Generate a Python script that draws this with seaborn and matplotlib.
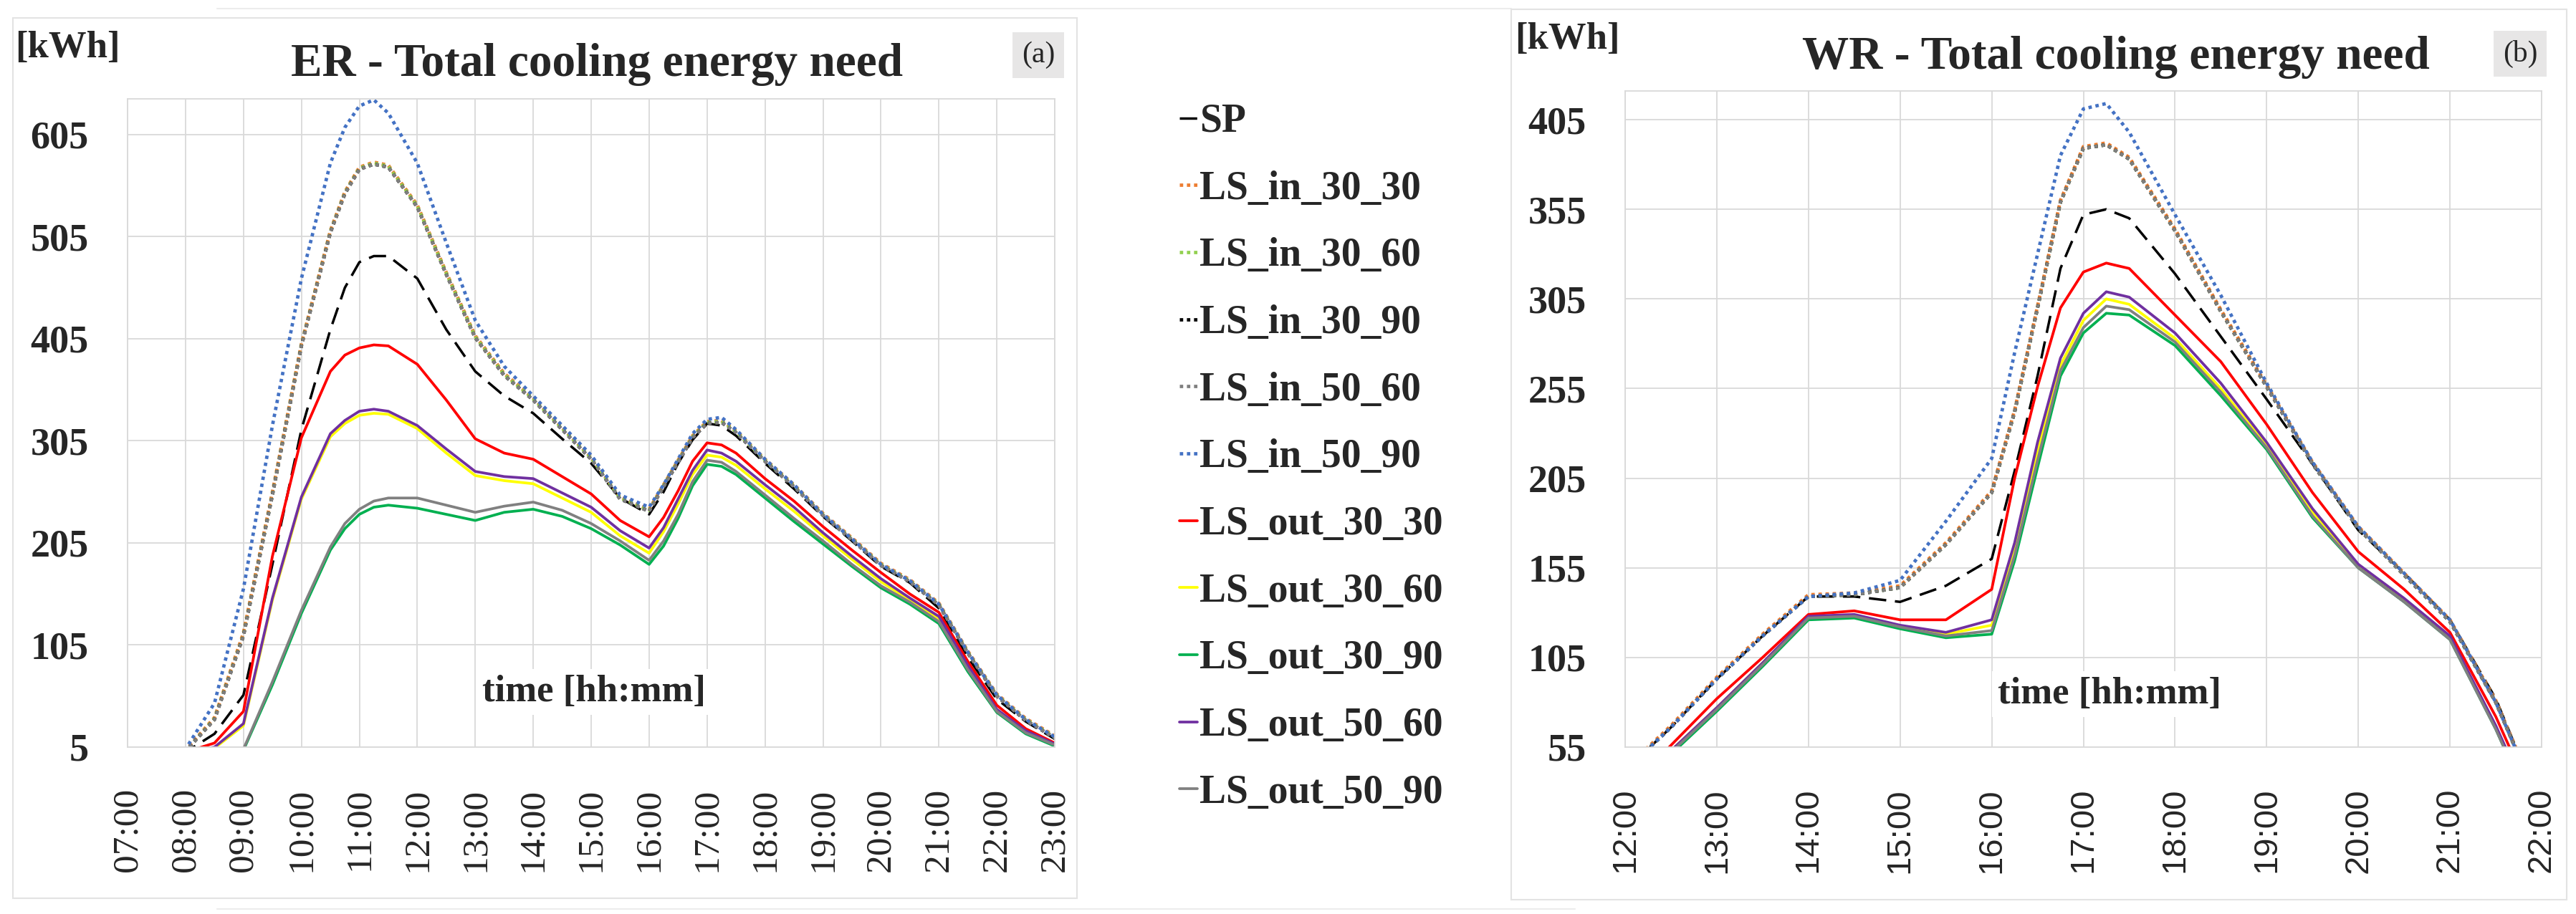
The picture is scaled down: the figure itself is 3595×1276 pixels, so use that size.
"""ER / WR total cooling energy need, two panels with a shared legend."""

import matplotlib

matplotlib.use("Agg")

import matplotlib.pyplot as plt
import seaborn as sns
from matplotlib.lines import Line2D
from matplotlib.patches import Rectangle

sns.set_theme(style="white")
plt.rcParams["font.family"] = ["Liberation Serif", "DejaVu Serif"]

W, H = 3595, 1276

SERIES = [
    "SP",
    "LS_in_30_30", "LS_in_30_60", "LS_in_30_90", "LS_in_50_60", "LS_in_50_90",
    "LS_out_30_30", "LS_out_30_60", "LS_out_30_90", "LS_out_50_60", "LS_out_50_90",
]

# ---- ER panel, 07:00 .. 23:00 (half-hour samples, extra quarter-hours near peaks) ----
ER_HOURS = [7.0, 7.5, 8.0, 8.5, 9.0, 9.5, 10.0, 10.5, 10.75, 11.0, 11.25, 11.5, 12.0,
            12.5, 13.0, 13.5, 14.0, 14.5, 15.0, 15.5, 16.0, 16.25, 16.5, 16.75, 17.0,
            17.25, 17.5, 18.0, 18.5, 19.0, 19.5, 20.0, 20.5, 21.0, 21.5, 22.0, 22.5, 23.0]
ER_SP = [0, 0, 0, 18, 56, 184, 316, 414, 455, 480, 486, 486, 464,
         414, 373, 349, 332, 307, 283, 249, 233, 255, 283, 306, 322,
         320, 310, 283, 258, 231, 207, 182, 166, 141, 93, 52, 30, 13]
ER_IN_30_30 = [0, 0, 2, 34, 117, 255, 400, 511, 549, 573, 578, 575, 536,
               470, 408, 371, 347, 318, 289, 250, 238, 262, 286, 310, 324,
               325, 315, 287, 262, 234, 210, 185, 169, 146, 99, 57, 33, 16]
ER_IN_30_60 = [0, 0, 1, 33, 115, 253, 399, 510, 548, 572, 577, 574, 535,
               469, 407, 370, 346, 317, 288, 249, 237, 261, 285, 309, 323,
               324, 314, 286, 261, 233, 209, 184, 168, 145, 98, 56, 32, 15]
ER_IN_30_90 = [0, 0, 1, 32, 114, 252, 398, 509, 547, 571, 576, 573, 534,
               468, 406, 369, 345, 316, 287, 248, 236, 260, 284, 308, 322,
               323, 313, 285, 260, 232, 208, 183, 167, 144, 97, 55, 31, 14]
ER_IN_50_60 = [0, 0, 1, 32, 114, 252, 398, 509, 547, 571, 576, 573, 534,
               468, 406, 369, 345, 316, 287, 248, 236, 260, 284, 308, 322,
               323, 313, 285, 260, 232, 208, 183, 167, 144, 97, 55, 31, 14]
ER_IN_50_90 = [0, 0, 3, 48, 160, 320, 464, 577, 612, 633, 639, 626, 577,
               499, 423, 378, 349, 320, 291, 252, 240, 262, 287, 312, 326,
               328, 316, 287, 262, 233, 209, 184, 168, 145, 98, 56, 32, 15]
ER_OUT_30_30 = [0, 0, 0, 9, 40, 192, 308, 373, 389, 396, 399, 398, 380,
                345, 307, 293, 287, 270, 253, 227, 211, 230, 256, 285, 303,
                301, 293, 268, 246, 221, 198, 176, 155, 137, 89, 46, 23, 9]
ER_OUT_30_60 = [0, 0, 0, 4, 26, 149, 248, 309, 322, 330, 332, 331, 317,
                293, 271, 266, 263, 249, 235, 212, 195, 216, 243, 272, 291,
                289, 281, 258, 236, 212, 189, 167, 149, 131, 84, 41, 20, 7]
ER_OUT_30_90 = [0, 0, 0, 0, 2, 66, 136, 198, 219, 233, 240, 242, 239,
                233, 227, 235, 238, 231, 219, 203, 184, 202, 229, 261, 282,
                280, 272, 249, 226, 204, 182, 161, 145, 126, 79, 39, 18, 6]
ER_OUT_50_60 = [0, 0, 0, 5, 28, 151, 250, 312, 325, 334, 336, 334, 320,
                297, 275, 270, 268, 254, 240, 217, 200, 220, 248, 276, 296,
                293, 285, 262, 240, 215, 192, 170, 151, 133, 85, 42, 21, 8]
ER_OUT_50_90 = [0, 0, 0, 0, 3, 69, 139, 201, 224, 238, 246, 249, 249,
                242, 235, 241, 245, 237, 224, 207, 188, 207, 233, 265, 286,
                284, 275, 252, 229, 207, 184, 163, 147, 128, 81, 40, 19, 7]
ER_YTICKS = [5, 105, 205, 305, 405, 505, 605]

# ---- WR panel, 12:00 .. 22:00 ----
WR_HOURS = [12.0, 12.5, 13.0, 13.5, 14.0, 14.5, 15.0, 15.5, 16.0, 16.25, 16.5, 16.75,
            17.0, 17.25, 17.5, 18.0, 18.5, 19.0, 19.5, 20.0, 20.5, 21.0, 21.5, 22.0]
WR_SP = [42, 66, 93, 117, 139, 139, 136, 145, 160, 209, 262, 322,
         352, 355, 350, 319, 284, 249, 213, 176, 152, 126, 82, 20]
WR_IN_30_30 = [43, 67, 94, 118, 140, 141, 145, 169, 198, 243, 301, 360,
               390, 392, 384, 344, 299, 257, 214, 178, 152, 126, 81, 21]
WR_IN_30_60 = [42, 66, 93, 117, 139, 140, 144, 168, 197, 242, 300, 359,
               389, 391, 383, 343, 298, 256, 213, 177, 151, 125, 80, 20]
WR_IN_30_90 = [42, 66, 93, 117, 139, 140, 144, 168, 197, 242, 300, 359,
               389, 391, 383, 343, 298, 256, 213, 177, 151, 125, 80, 20]
WR_IN_50_60 = [42, 66, 93, 117, 139, 140, 144, 168, 197, 242, 300, 359,
               389, 391, 383, 343, 298, 256, 213, 177, 151, 125, 80, 20]
WR_IN_50_90 = [42, 66, 93, 117, 139, 141, 148, 181, 216, 275, 330, 385,
               411, 414, 398, 352, 307, 258, 214, 178, 152, 126, 80, 20]
WR_OUT_30_30 = [30, 56, 82, 105, 129, 131, 126, 126, 143, 205, 256, 300,
                320, 325, 322, 296, 270, 235, 197, 164, 143, 119, 72, 15]
WR_OUT_30_60 = [27, 53, 77, 102, 127, 128, 122, 118, 123, 166, 220, 268,
                293, 305, 302, 283, 255, 223, 186, 156, 137, 116, 66, 9]
WR_OUT_30_90 = [25, 51, 75, 100, 126, 127, 121, 116, 118, 159, 211, 262,
                286, 297, 296, 279, 251, 221, 183, 155, 136, 115, 65, 8]
WR_OUT_50_60 = [27, 53, 77, 102, 128, 129, 123, 119, 126, 169, 225, 272,
                297, 309, 306, 286, 258, 225, 188, 157, 138, 117, 67, 10]
WR_OUT_50_90 = [26, 52, 76, 101, 127, 128, 122, 117, 120, 162, 215, 265,
                289, 301, 299, 281, 253, 222, 184, 155, 136, 115, 65, 8]
WR_YTICKS = [55, 105, 155, 205, 255, 305, 355, 405]

ER_DATA = dict(zip(SERIES, [ER_SP, ER_IN_30_30, ER_IN_30_60, ER_IN_30_90, ER_IN_50_60,
                            ER_IN_50_90, ER_OUT_30_30, ER_OUT_30_60, ER_OUT_30_90,
                            ER_OUT_50_60, ER_OUT_50_90]))
WR_DATA = dict(zip(SERIES, [WR_SP, WR_IN_30_30, WR_IN_30_60, WR_IN_30_90, WR_IN_50_60,
                            WR_IN_50_90, WR_OUT_30_30, WR_OUT_30_60, WR_OUT_30_90,
                            WR_OUT_50_60, WR_OUT_50_90]))

COLORS = {
    "SP": "#000000",
    "LS_in_30_30": "#ED7D31", "LS_in_30_60": "#92D050", "LS_in_30_90": "#000000",
    "LS_in_50_60": "#7F7F7F", "LS_in_50_90": "#4472C4",
    "LS_out_30_30": "#FF0000", "LS_out_30_60": "#FFFF00", "LS_out_30_90": "#00B050",
    "LS_out_50_60": "#7030A0", "LS_out_50_90": "#808080",
}
GRID = "#d9d9d9"


def line_style(name):
    if name == "SP":
        return dict(linestyle=(0, (7, 3.5)), linewidth=2.5)
    if name.startswith("LS_in"):
        return dict(linestyle=(0, (1, 1.1)), linewidth=3.4)
    return dict(linestyle="-", linewidth=2.7)


def draw_panel(ax, hours, data, xlim, ylim, yticks, tick_font, tick_size):
    for name in SERIES:
        sns.lineplot(x=hours, y=data[name], ax=ax, color=COLORS[name], label=name,
                     **line_style(name))
    ax.get_legend().remove()
    ax.set_xlim(*xlim)
    ax.set_ylim(*ylim)
    hour_ticks = list(range(int(xlim[0]), int(xlim[1]) + 1))
    ax.set_xticks(hour_ticks)
    ax.set_xticklabels([f"{h:02d}:00" for h in hour_ticks], rotation=90,
                       family=tick_font, fontsize=tick_size)
    ax.set_yticks(yticks)
    ax.set_yticklabels([str(v) for v in yticks], family="Liberation Serif",
                       fontweight="bold", fontsize=39)
    ax.tick_params(axis="x", length=0, pad=41)
    ax.tick_params(axis="y", length=0, pad=39)
    ax.grid(True, color=GRID, linewidth=1.3)
    ax.set_axisbelow(True)
    for spine in ax.spines.values():
        spine.set_color(GRID)
        spine.set_linewidth(1.3)
    ax.set(xlabel="", ylabel="")


def fx(x):
    return x / W


def fy(y):
    return 1 - y / H


figure = plt.figure(figsize=(W / 100, H / 100), dpi=100)

# faint outer frame: only its top and bottom edges show between the panels
for x0, x1, y in [(303, 2109, 12), (303, 2198, 1269)]:
    figure.lines.append(Line2D([fx(x0), fx(x1)], [fy(y), fy(y)], transform=figure.transFigure,
                               color="#ececec", linewidth=1.5, zorder=-2))

# chart-area frames
for x0, y0, x1, y1 in [(18, 25, 1503, 1254), (2109, 13, 3582, 1256)]:
    figure.patches.append(Rectangle((fx(x0), fy(y1)), fx(x1 - x0), (y1 - y0) / H,
                                    transform=figure.transFigure, fill=False,
                                    edgecolor="#e3e3e3", linewidth=1.5, zorder=-1))

ax_er = figure.add_axes([fx(178), fy(1043), fx(1294), 905 / H])
ax_wr = figure.add_axes([fx(2268), fy(1043), fx(1279), 916 / H])

draw_panel(ax_er, ER_HOURS, ER_DATA, (7, 23), (5, 640), ER_YTICKS, "Liberation Serif", 37)
draw_panel(ax_wr, WR_HOURS, WR_DATA, (12, 22), (55, 421), WR_YTICKS, "Liberation Sans", 34)

bold = dict(family="Liberation Serif", fontweight="bold")
figure.text(fx(833), fy(106), "ER - Total cooling energy need", ha="center",
            va="baseline", fontsize=47, **bold)
figure.text(fx(2953), fy(96), "WR - Total cooling energy need", ha="center",
            va="baseline", fontsize=47, **bold)
figure.text(fx(21), fy(80), "[kWh]", ha="left", va="baseline", fontsize=38, **bold)
figure.text(fx(2114), fy(68), "[kWh]", ha="left", va="baseline", fontsize=38, **bold)

for cx, cy in [(829, 966), (2944, 969)]:
    figure.text(fx(cx), fy(cy), "time [hh:mm]", ha="center", va="center", fontsize=38,
                bbox=dict(boxstyle="square,pad=0.15", facecolor="white", edgecolor="none"),
                **bold)

box = dict(boxstyle="square,pad=0.3", facecolor="#e7e6e6", edgecolor="none")
figure.text(fx(1449), fy(77), "(a)", ha="center", va="center", fontsize=30,
            family="Liberation Serif", bbox=box)
figure.text(fx(3517), fy(75), "(b)", ha="center", va="center", fontsize=30,
            family="Liberation Serif", bbox=box)

handles, labels = ax_er.get_legend_handles_labels()
figure.legend(handles, labels, loc="upper left", bbox_to_anchor=(fx(1646), fy(144)),
              frameon=False, borderpad=0, borderaxespad=0, handlelength=0.45,
              handletextpad=0.05, labelspacing=0.75,
              prop=dict(family="Liberation Serif", weight="bold", size=40))

figure.savefig("out.png", dpi=100)
plt.close(figure)
